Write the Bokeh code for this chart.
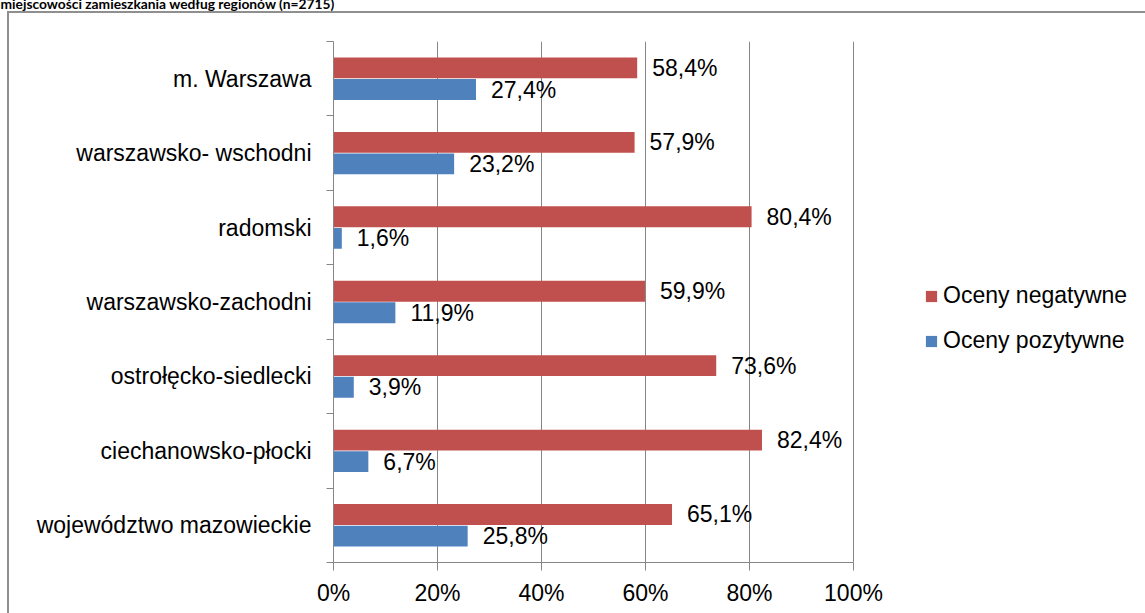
from bokeh.plotting import figure
from bokeh.models import (ColumnDataSource, Range1d, FixedTicker, PrintfTickFormatter,
                          Legend, LegendItem, Title)
from bokeh.core.properties import value
from bokeh.transform import dodge
from bokeh.embed import file_html
from bokeh.resources import INLINE

# ---------------- data ----------------
title_text = "miejscowości zamieszkania według regionów (n=2715)"
regions = ["m. Warszawa", "warszawsko- wschodni", "radomski", "warszawsko-zachodni",
           "ostrołęcko-siedlecki", "ciechanowsko-płocki", "województwo mazowieckie"]
negatywne = [58.4, 57.9, 80.4, 59.9, 73.6, 82.4, 65.1]
pozytywne = [27.4, 23.2, 1.6, 11.9, 3.9, 6.7, 25.8]
series_names = ["Oceny negatywne", "Oceny pozytywne"]
x_ticks = [0, 20, 40, 60, 80, 100]

# ---------------- style ----------------
RED = "#C0504D"
BLUE = "#4F81BD"
GRAY = "#868686"
FONT = "Liberation Sans"
FS = "23px"

W, H = 1145, 613
ML, MT, MB = 333, 41, 51
PX_PER_PCT = 5.2          # 100 % spans 520 px
n = len(regions)
x_end = (W - ML) / PX_PER_PCT   # frame runs to the right edge (room for legend)


def fmt(v):
    return f"{v:.1f}".replace(".", ",") + "%"


ypos = [n - i - 0.5 for i in range(n)]
src = ColumnDataSource(dict(
    y=ypos, region=regions, neg=negatywne, poz=pozytywne,
    neg_lbl=[fmt(v) for v in negatywne], poz_lbl=[fmt(v) for v in pozytywne]))

p = figure(width=W, height=H, x_range=Range1d(0, x_end), y_range=Range1d(0, n),
           output_backend="svg", toolbar_location=None, title=None,
           min_border_left=ML, min_border_right=0, min_border_top=MT, min_border_bottom=MB)
p.outline_line_color = None
p.background_fill_color = "white"
p.border_fill_color = None
# the outer chart border of the source document (left and top edge)
p.styles = {
    "background": ("linear-gradient(#8f8f8f,#8f8f8f) 7px 11px / 2px calc(100% - 11px) no-repeat, "
                   "linear-gradient(#8f8f8f,#8f8f8f) 7px 11px / calc(100% - 7px) 2px no-repeat, "
                   "#ffffff"),
}

BH = 0.28
OFF = 0.145
r_neg = p.hbar(y=dodge("y", OFF, range=p.y_range), right="neg", left=0, height=BH,
               source=src, fill_color=RED, line_color=None)
r_poz = p.hbar(y=dodge("y", -OFF, range=p.y_range), right="poz", left=0, height=BH,
               source=src, fill_color=BLUE, line_color=None)

for col, lbl, off in (("neg", "neg_lbl", OFF), ("poz", "poz_lbl", -OFF)):
    p.text(x=col, y=dodge("y", off, range=p.y_range), text=lbl, source=src,
           x_offset=15, text_baseline="middle", text_align="left",
           text_font=value(FONT), text_font_size=value(FS), text_color="black")

# x axis
xa = p.xaxis[0]
xa.ticker = FixedTicker(ticks=x_ticks)
xa.bounds = (0, 100)
xa.formatter = PrintfTickFormatter(format="%d%%")
xa.axis_line_color = GRAY
xa.major_tick_line_color = GRAY
xa.major_tick_out = 8
xa.major_tick_in = 0
xa.minor_tick_line_color = None
xa.major_label_standoff = 9
xa.major_label_text_font = FONT
xa.major_label_text_font_size = FS
xa.major_label_text_color = "black"

# y axis
ya = p.yaxis[0]
ya.ticker = FixedTicker(ticks=ypos, minor_ticks=[float(i) for i in range(n + 1)])
ya.major_label_overrides = {y: r for y, r in zip(ypos, regions)}
ya.axis_line_color = GRAY
ya.major_tick_line_color = None
ya.major_tick_out = 0
ya.major_tick_in = 0
ya.minor_tick_line_color = GRAY
ya.minor_tick_out = 7
ya.minor_tick_in = 0
ya.major_label_standoff = 15
ya.major_label_text_font = FONT
ya.major_label_text_font_size = FS
ya.major_label_text_color = "black"

p.xgrid.ticker = FixedTicker(ticks=x_ticks)
p.xgrid.grid_line_color = GRAY
p.ygrid.grid_line_color = None

legend = Legend(items=[LegendItem(label=series_names[0], renderers=[r_neg]),
                       LegendItem(label=series_names[1], renderers=[r_poz])],
                location=(591, 208), padding=0, margin=0, spacing=18,
                glyph_width=14, glyph_height=14, label_standoff=5,
                label_text_font=FONT, label_text_font_size=FS, label_text_color="black",
                border_line_alpha=0, background_fill_alpha=0)
p.add_layout(legend)

# document title, cut off by the top edge as in the source:
# an empty spacer title next to the frame pushes the real one to the top edge
TITLE_FONT = dict(text_font="Lato", text_font_style="bold", text_font_size="13.8px",
                  text_color="black")
p.add_layout(Title(text=" ", align="left", vertical_align="bottom", standoff=20,
                   **TITLE_FONT), "above")
p.add_layout(Title(text=title_text, align="left", vertical_align="bottom",
                   offset=-ML, standoff=-18, **TITLE_FONT), "above")

open("out.html", "w").write(file_html(p, INLINE))
